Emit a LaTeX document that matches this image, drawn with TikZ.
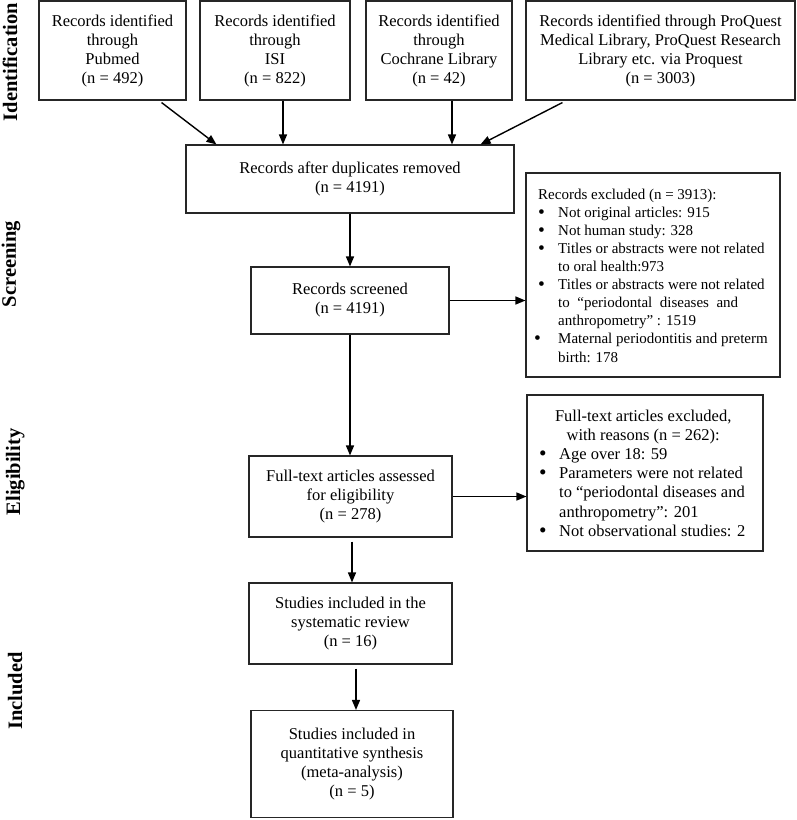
\documentclass[tikz,border=0pt]{standalone}
\usepackage{fontspec}
\setmainfont{Liberation Serif}
\usetikzlibrary{arrows.meta,calc}
\newcommand{\bigbul}{\raisebox{-0.15ex}{\scalebox{1.3}{\textbullet}}}
\tikzset{
  box/.style={draw=black!85, line width=1.1pt, inner sep=0pt, align=center,
    font=\fontsize{16.5}{19}\selectfont},
  arr/.style={draw=black, line width=1.4pt, -{Triangle[length=10pt,width=8pt]}},
  phase/.style={rotate=90, anchor=base, inner sep=0pt, font=\fontsize{20.5}{24}\selectfont\bfseries},
  listtxt/.style={anchor=north west, inner sep=0pt, align=left}
}
\begin{document}
\begin{tikzpicture}[x=1pt,y=-1pt]
\useasboundingbox (0,0) rectangle (797,820);
% side labels
\node[phase] (lid) at (17,62) {Identification};
\node[phase] (lsc) at (16,264) {Screening};
\node[phase] (lel) at (20,472) {Eligibility};
\node[phase] (lin) at (22,691) {Included};
% top boxes
\node[box, minimum width=147pt, minimum height=99pt] (pubmed) at (112.5,50.5)
  {Records identified\\through\\Pubmed\\(n = 492)};
\node[box, minimum width=150pt, minimum height=99pt] (isi) at (275,50.5)
  {Records identified\\through\\ISI\\(n = 822)};
\node[box, minimum width=146pt, minimum height=99pt] (coch) at (439,50.5)
  {Records identified\\through\\Cochrane Library\\(n = 42)};
\node[box, minimum width=269pt, minimum height=99pt] (proq) at (660.5,50.5)
  {Records identified through ProQuest\\Medical Library, ProQuest Research\\Library etc. via Proquest\\(n = 3003)};
% main column
\node[box, minimum width=328pt, minimum height=68pt] (dup) at (350,179)
  {Records after duplicates removed\\(n = 4191)};
\node[box, minimum width=198pt, minimum height=67pt] (scr) at (350,300.5)
  {Records screened\\(n = 4191)};
\node[box, minimum width=203pt, minimum height=81pt] (full) at (350.5,496.5)
  {Full-text articles assessed\\for eligibility\\(n = 278)};
\node[box, minimum width=203pt, minimum height=81pt] (sys) at (350.5,623.5)
  {Studies included in the\\systematic review\\(n = 16)};
\node[box, minimum width=202pt, minimum height=107pt] (meta) at (352,764)
  {Studies included in\\quantitative synthesis\\(meta-analysis)\\(n = 5)};
% exclusion boxes
\node[box, minimum width=254pt, minimum height=204pt] (exc) at (653,275) {};
\node[listtxt, font=\fontsize{15}{18.1}\selectfont] (exctxt) at (538,188.5)
  {Records excluded (n = 3913):\\
   \makebox[20pt][l]{\bigbul}Not original articles: 915\\
   \makebox[20pt][l]{\bigbul}Not human study: 328\\
   \makebox[20pt][l]{\bigbul}Titles or abstracts were not related\\
   \hspace*{20pt}to oral health:973\\
   \makebox[20pt][l]{\bigbul}Titles or abstracts were not related\\
   \hspace*{20pt}\makebox[180pt][s]{to “periodontal diseases and}\\
   \hspace*{20pt}anthropometry” : 1519\\
   \hspace*{-4pt}\makebox[24pt][l]{\bigbul}Maternal periodontitis and preterm\\
   \hspace*{20pt}birth: 178};
\node[box, minimum width=236pt, minimum height=156pt] (ftx) at (645,473) {};
\node[listtxt, font=\fontsize{16.5}{19.2}\selectfont] (ftxtxt) at (539,409.5)
  {\makebox[208pt][c]{Full-text articles excluded,}\\
   \makebox[208pt][c]{with reasons (n = 262):}\\
   \makebox[20pt][l]{\bigbul}Age over 18: 59\\
   \makebox[20pt][l]{\bigbul}Parameters were not related\\
   \hspace*{20pt}to “periodontal diseases and\\
   \hspace*{20pt}anthropometry”: 201\\
   \makebox[20pt][l]{\bigbul}Not observational studies: 2};
% connectors
\draw[arr] ($(pubmed.south east)+(-25,2)$) -- ($(dup.north west)+(31,0)$);
\draw[arr] ([xshift=8pt]isi.south) -- ([xshift=8pt]isi.south |- dup.north);
\draw[arr] ([xshift=13pt]coch.south) -- ([xshift=13pt]coch.south |- dup.north);
\draw[arr] ($(proq.south west)+(37,2)$) -- ($(dup.north east)+(-34,0)$);
\draw[arr] (dup.south) -- (scr.north);
\draw[arr] (scr.east) -- (scr.east -| exc.west);
\draw[arr] (scr.south) -- (scr.south |- full.north);
\draw[arr] (full.east) -- (full.east -| ftx.west);
\draw[arr] ([xshift=1.5pt,yshift=-4pt]full.south) -- ([xshift=1.5pt]full.south |- sys.north);
\draw[arr] ([xshift=5.5pt,yshift=-4pt]sys.south) -- ([xshift=5.5pt]sys.south |- meta.north);
\end{tikzpicture}
\end{document}
